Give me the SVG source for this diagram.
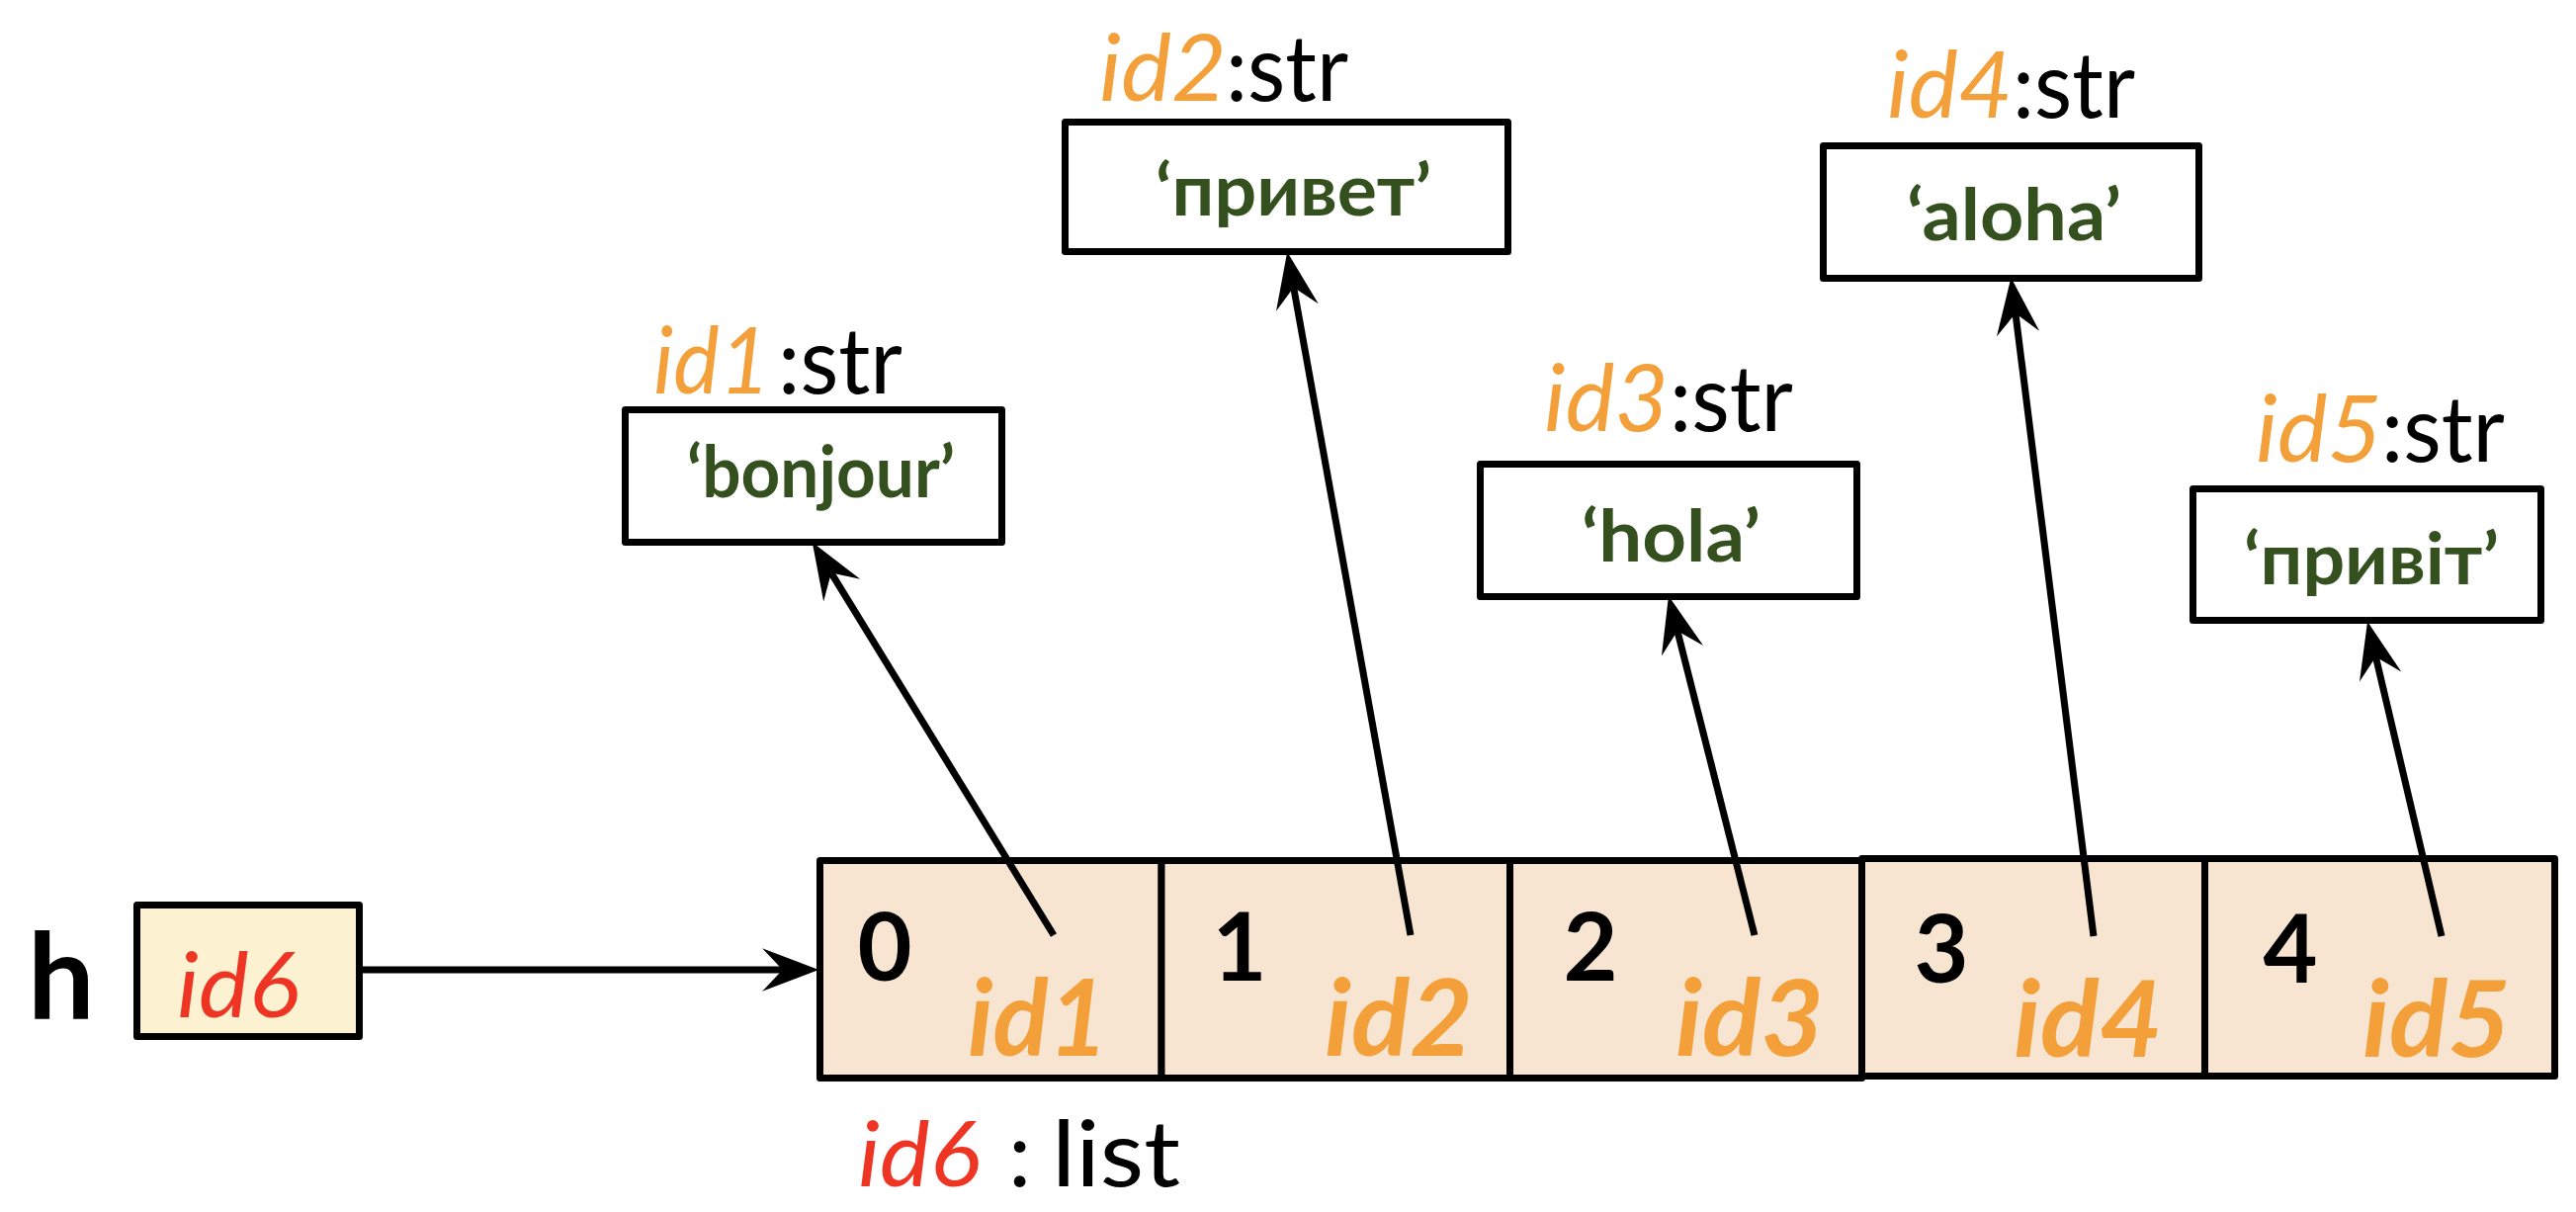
<svg xmlns="http://www.w3.org/2000/svg" width="2606" height="1226" viewBox="0 0 2606 1226">
<style>
.box{fill:#ffffff;stroke:#000;stroke-width:7;stroke-linejoin:round}
.cell{fill:#F8E5D1;stroke:#000;stroke-width:7;stroke-linejoin:round}
.var{fill:#FCF1D0;stroke:#000;stroke-width:7;stroke-linejoin:round}
.val{font-family:Lato,"Noto Sans",sans-serif;font-weight:700;font-size:72px;fill:#35501F}
.lid{font-family:Lato,"Noto Sans",sans-serif;font-style:italic;font-size:93px;fill:#F4A03A}
.typ{font-family:Lato,"Noto Sans",sans-serif;font-size:93px;fill:#000}
.idx{font-family:Lato,"Noto Sans",sans-serif;font-weight:700;font-size:95px;fill:#000;text-anchor:middle}
.cid{font-family:Lato,"Noto Sans",sans-serif;font-weight:700;font-style:italic;font-size:108px;fill:#F4A03A}
.red{font-family:Lato,"Noto Sans",sans-serif;font-style:italic;font-size:91px;fill:#EE3524}
.con{stroke:#000;stroke-width:7;fill:none;marker-end:url(#arr)}
</style>
<defs>
<marker id="arr" markerUnits="userSpaceOnUse" markerWidth="80" markerHeight="60" viewBox="-30 -25 70 50" refX="0" refY="0" orient="auto">
<path d="M30,0 L-20,-19 L-2,0 L-20,19 Z" fill="#000"/>
</marker>
</defs>

<g id="var-h">
<text x="28" y="1031" font-family="Lato,'Noto Sans',sans-serif" font-weight="700" font-size="120" fill="#000">h</text>
<rect class="var" x="138.5" y="915.5" width="225" height="133"/>
<text class="red" x="179" y="1029" textLength="124" lengthAdjust="spacingAndGlyphs">id6</text>
</g>

<g id="list-id6">
<rect class="cell" x="829.5" y="870.5" width="345.5" height="220"/>
<rect class="cell" x="1175" y="870.5" width="352.5" height="220"/>
<rect class="cell" x="1527.5" y="870.5" width="356" height="220"/>
<rect class="cell" x="1883.5" y="868.5" width="347" height="220"/>
<rect class="cell" x="2230.5" y="868.5" width="354" height="220"/>
<text class="idx" x="895" y="992">0</text>
<text class="idx" x="1254" y="992">1</text>
<text class="idx" x="1609" y="992">2</text>
<text class="idx" x="1964" y="994">3</text>
<text class="idx" x="2317" y="994">4</text>
<text class="cid" x="979" y="1068" textLength="142" lengthAdjust="spacingAndGlyphs">id1</text>
<text class="cid" x="1340" y="1068" textLength="150" lengthAdjust="spacingAndGlyphs">id2</text>
<text class="cid" x="1695" y="1068" textLength="150" lengthAdjust="spacingAndGlyphs">id3</text>
<text class="cid" x="2037" y="1069" textLength="151" lengthAdjust="spacingAndGlyphs">id4</text>
<text class="cid" x="2390" y="1069" textLength="150" lengthAdjust="spacingAndGlyphs">id5</text>
<text class="red" x="868" y="1200" textLength="124" lengthAdjust="spacingAndGlyphs">id6</text>
<text class="typ" x="1020" y="1200" font-size="91">:</text>
<text class="typ" x="1064" y="1200" font-size="91" textLength="130" lengthAdjust="spacingAndGlyphs">list</text>
</g>

<g id="str-id1">
<text class="lid" x="661" y="398" textLength="118" lengthAdjust="spacingAndGlyphs">id1</text>
<text class="typ" x="787" y="398" textLength="126" lengthAdjust="spacingAndGlyphs">:str</text>
<rect class="box" x="632.5" y="414.5" width="381" height="134"/>
<text class="val" x="695" y="503" textLength="271" lengthAdjust="spacingAndGlyphs">‘bonjour’</text>
</g>

<g id="str-id2">
<text class="lid" x="1112" y="102" textLength="129" lengthAdjust="spacingAndGlyphs">id2</text>
<text class="typ" x="1240" y="102" textLength="124" lengthAdjust="spacingAndGlyphs">:str</text>
<rect class="box" x="1077.5" y="123.5" width="448" height="131"/>
<text class="val" x="1169" y="218" textLength="279" lengthAdjust="spacingAndGlyphs">‘привет’</text>
</g>

<g id="str-id3">
<text class="lid" x="1562" y="436" textLength="126" lengthAdjust="spacingAndGlyphs">id3</text>
<text class="typ" x="1689" y="436" textLength="125" lengthAdjust="spacingAndGlyphs">:str</text>
<rect class="box" x="1497.5" y="469.5" width="381" height="134"/>
<text class="val" x="1600" y="568" textLength="181" lengthAdjust="spacingAndGlyphs">‘hola’</text>
</g>

<g id="str-id4">
<text class="lid" x="1909" y="119" textLength="127" lengthAdjust="spacingAndGlyphs">id4</text>
<text class="typ" x="2036" y="119" textLength="124" lengthAdjust="spacingAndGlyphs">:str</text>
<rect class="box" x="1844.5" y="147.5" width="380" height="134"/>
<text class="val" x="1929" y="243" textLength="217" lengthAdjust="spacingAndGlyphs">‘aloha’</text>
</g>

<g id="str-id5">
<text class="lid" x="2282" y="467" textLength="128" lengthAdjust="spacingAndGlyphs">id5</text>
<text class="typ" x="2409" y="467" textLength="125" lengthAdjust="spacingAndGlyphs">:str</text>
<rect class="box" x="2218.5" y="494.5" width="352" height="133"/>
<text class="val" x="2270" y="591" textLength="258" lengthAdjust="spacingAndGlyphs">‘привіт’</text>
</g>

<g id="connectors">
<line class="con" x1="367" y1="981" x2="794" y2="981"/>
<line class="con" x1="1066" y1="946" x2="839.7" y2="577.6"/>
<line class="con" x1="1427" y1="946" x2="1308.3" y2="288.5"/>
<line class="con" x1="1775" y1="946" x2="1696.4" y2="636.1"/>
<line class="con" x1="2118" y1="947" x2="2038.7" y2="314.8"/>
<line class="con" x1="2470" y1="947" x2="2402.9" y2="662.2"/>
</g>
</svg>
